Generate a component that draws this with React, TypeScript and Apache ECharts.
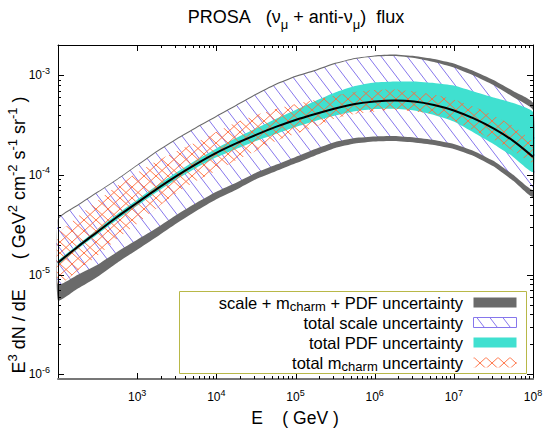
import React, { useEffect, useRef } from 'react';
import * as echarts from 'echarts';

// log10(E / GeV)
const energyExp = [2, 2.25, 2.5, 2.75, 3, 3.25, 3.5, 3.75, 4, 4.25, 4.5, 4.75, 5, 5.25, 5.5, 5.75, 6, 6.25, 6.5, 6.75, 7, 7.25, 7.5, 7.75, 8];
// log10 of E^3 dN/dE  (GeV^2 cm^-2 s^-1 sr^-1)
const centralLog = [-4.88, -4.72, -4.57, -4.42, -4.28, -4.14, -4.01, -3.89, -3.78, -3.685, -3.6, -3.52, -3.45, -3.39, -3.335, -3.29, -3.265, -3.255, -3.265, -3.3, -3.355, -3.435, -3.535, -3.66, -3.82];
const totalUpLog = [-4.438, -4.298, -4.168, -4.038, -3.898, -3.758, -3.633, -3.518, -3.408, -3.298, -3.188, -3.088, -3.008, -2.948, -2.878, -2.828, -2.803, -2.795, -2.81, -2.84, -2.885, -2.96, -3.05, -3.16, -3.28];
const totalLoLog = [-5.26, -5.14, -5.02, -4.88, -4.75, -4.62, -4.485, -4.36, -4.245, -4.15, -4.045, -3.965, -3.885, -3.805, -3.73, -3.685, -3.665, -3.66, -3.675, -3.7, -3.74, -3.81, -3.915, -4.06, -4.22];
const scaleUpLog = [-4.45, -4.31, -4.18, -4.05, -3.91, -3.77, -3.645, -3.53, -3.42, -3.31, -3.2, -3.1, -3.02, -2.96, -2.89, -2.84, -2.815, -2.81, -2.83, -2.87, -2.925, -3.005, -3.1, -3.22, -3.35];
const scaleLoLog = [-5.1, -5.0, -4.9, -4.77, -4.65, -4.53, -4.4, -4.28, -4.17, -4.08, -3.98, -3.9, -3.82, -3.74, -3.67, -3.63, -3.615, -3.61, -3.625, -3.65, -3.69, -3.76, -3.86, -4.0, -4.15];
const pdfUpLog = [-4.86, -4.7, -4.545, -4.393, -4.25, -4.108, -3.975, -3.85, -3.735, -3.63, -3.535, -3.44, -3.35, -3.26, -3.175, -3.11, -3.075, -3.065, -3.065, -3.08, -3.105, -3.165, -3.225, -3.28, -3.37];
const pdfLoLog = [-4.9, -4.742, -4.595, -4.447, -4.31, -4.172, -4.045, -3.93, -3.825, -3.74, -3.66, -3.59, -3.52, -3.46, -3.405, -3.362, -3.34, -3.337, -3.355, -3.4, -3.465, -3.575, -3.69, -3.82, -3.97];
const charmUpLog = [-4.6, -4.42, -4.26, -4.11, -3.98, -3.86, -3.76, -3.67, -3.57, -3.475, -3.4, -3.34, -3.29, -3.25, -3.205, -3.17, -3.15, -3.145, -3.165, -3.195, -3.245, -3.315, -3.405, -3.51, -3.67];
const charmLoLog = [-5.1, -4.96, -4.81, -4.64, -4.49, -4.33, -4.18, -4.06, -3.96, -3.855, -3.76, -3.66, -3.59, -3.52, -3.435, -3.39, -3.365, -3.345, -3.365, -3.39, -3.455, -3.555, -3.645, -3.76, -3.88];

const xMajorExp = [3, 4, 5, 6, 7];
const yMajorExp = [-6, -5, -4, -3];
const yMinorDecades = [-6, -5, -4];
const minorMult = [2, 3, 4, 5, 6, 7, 8, 9];

const legendLabels = [
  '{t|scale + m}{sub|charm}{t| + PDF uncertainty}',
  '{t|total scale uncertainty}',
  '{t|total PDF uncertainty}',
  '{t|total m}{sub|charm}{t| uncertainty}',
];

const FONT = '"Liberation Sans", Arial, Helvetica, sans-serif';
const GRAY = '#6a6a6a';
const HATCH = '#8676ec';
const TURQ = '#40e0d0';
const ORANGE = '#ff6a3a';
const KEYBOX = '#b8b848';

const pow = (v: number) => Math.pow(10, v);

function makeHatch(): HTMLCanvasElement {
  const w = 13, h = 17;
  const c = document.createElement('canvas');
  c.width = w; c.height = h;
  const g = c.getContext('2d')!;
  g.fillStyle = '#ffffff';
  g.fillRect(0, 0, w, h);
  g.strokeStyle = HATCH;
  g.lineWidth = 1;
  g.beginPath();
  for (const dx of [-w, 0, w]) { g.moveTo(dx, 0); g.lineTo(dx + w, h); }
  g.stroke();
  return c;
}

function makeCross(): HTMLCanvasElement {
  const w = 12, h = 11;
  const c = document.createElement('canvas');
  c.width = w; c.height = h;
  const g = c.getContext('2d')!;
  g.strokeStyle = ORANGE;
  g.lineWidth = 0.9;
  g.beginPath();
  for (const dx of [-w, 0, w]) {
    g.moveTo(dx, 0); g.lineTo(dx + w, h);
    g.moveTo(dx + w, 0); g.lineTo(dx, h);
  }
  g.stroke();
  return c;
}

const expLabel = (v: number, hide: number[]) => {
  const l = Math.log10(v);
  const r = Math.round(l);
  if (Math.abs(l - r) > 1e-6 || hide.indexOf(r) >= 0) return '';
  return `{b|10}{s|${r}}`;
};

const labelRich = {
  b: { fontSize: 12, fontFamily: FONT, color: '#000', lineHeight: 18 },
  s: { fontSize: 9, fontFamily: FONT, color: '#000', lineHeight: 10, verticalAlign: 'top' },
};

const mkRich = (size: number, small: number, lh: number, slh: number) => ({
  t: { fontSize: size, fontFamily: FONT, fill: '#000', lineHeight: lh },
  sub: { fontSize: small, fontFamily: FONT, fill: '#000', lineHeight: slh, verticalAlign: 'bottom' },
  sup: { fontSize: small, fontFamily: FONT, fill: '#000', lineHeight: slh, verticalAlign: 'top' },
});

export default function App() {
  const ref = useRef<HTMLDivElement>(null);

  useEffect(() => {
    const el = ref.current!;
    const chart = echarts.init(el, undefined, { renderer: 'svg' });
    const E = energyExp.map(pow);
    const hatchPattern = { image: makeHatch(), repeat: 'repeat' };
    const crossPattern = { image: makeCross(), repeat: 'repeat' };

    const band = (name: string, lo: number[], hi: number[], fill: any, z: number) => ({
      type: 'custom',
      name,
      z,
      silent: true,
      data: [[E[0], pow(hi[0])]],
      renderItem: (_params: any, api: any) => {
        const pts: number[][] = [];
        for (let i = 0; i < E.length; i++) pts.push(api.coord([E[i], pow(hi[i])]));
        for (let i = E.length - 1; i >= 0; i--) pts.push(api.coord([E[i], pow(lo[i])]));
        return { type: 'polygon', shape: { points: pts, smooth: 0.15 }, style: { fill, stroke: null, lineWidth: 0 } };
      },
    });

    // tick marks: [x, y, kind] kind 0 x-major, 1 x-minor, 2 y-major, 3 y-minor
    const tickData: number[][] = [];
    xMajorExp.forEach((e) => {
      tickData.push([pow(e), 1e-4, 0]);
      minorMult.forEach((k) => tickData.push([k * pow(e), 1e-4, 1]));
    });
    yMajorExp.forEach((e) => tickData.push([1e4, pow(e), 2]));
    yMinorDecades.forEach((e) => minorMult.forEach((k) => tickData.push([1e4, k * pow(e), 3])));

    const ticks = {
      type: 'custom',
      name: 'ticks',
      z: 20,
      silent: true,
      data: tickData,
      renderItem: (params: any, api: any) => {
        const cs = params.coordSys;
        const kind = api.value(2);
        const p = api.coord([api.value(0), api.value(1)]);
        const len = kind % 2 === 0 ? 6 : 3;
        const style = { stroke: '#000', lineWidth: 1 };
        if (kind < 2) {
          const x = Math.round(p[0]) + 0.5;
          const yb = cs.y + cs.height;
          return {
            type: 'group',
            children: [
              { type: 'line', shape: { x1: x, y1: yb, x2: x, y2: yb - len }, style },
              { type: 'line', shape: { x1: x, y1: cs.y, x2: x, y2: cs.y + len }, style },
            ],
          };
        }
        const y = Math.round(p[1]) + 0.5;
        const xr = cs.x + cs.width;
        return {
          type: 'group',
          children: [
            { type: 'line', shape: { x1: cs.x, y1: y, x2: cs.x + len, y2: y }, style },
            { type: 'line', shape: { x1: xr, y1: y, x2: xr - len, y2: y }, style },
          ],
        };
      },
    };

    const legendRich = mkRich(16.5, 13, 19, 10);
    const legendX = 179, legendY = 291, legendW = 347, legendH = 82;
    const rowY = [303, 323, 343, 363];
    const sampleFills: any[] = [GRAY, hatchPattern, TURQ, crossPattern];
    const sampleStroke: any[] = [null, HATCH, null, null];

    const graphics: any[] = [
      {
        type: 'text', x: 296, y: 17, z: 50,
        style: {
          text: '{t|PROSA\u00a0\u00a0\u00a0(\u03bd}{sub|\u03bc}{t| + anti-\u03bd}{sub|\u03bc}{t|)\u00a0\u00a0flux}',
          align: 'center', verticalAlign: 'middle', rich: mkRich(18, 13, 27, 16),
        },
      },
      {
        type: 'text', x: 295, y: 418, z: 50,
        style: { text: '{t|E\u00a0\u00a0\u00a0\u00a0( GeV )}', align: 'center', verticalAlign: 'middle', rich: mkRich(17.5, 12, 24, 14) },
      },
      {
        type: 'text', x: 19, y: 235, rotation: Math.PI / 2, z: 50,
        style: {
          text: '{t|E}{sup|3}{t| dN / dE\u00a0\u00a0\u00a0\u00a0\u00a0\u00a0( GeV}{sup|2}{t| cm}{sup|-2}{t| s}{sup|-1}{t| sr}{sup|-1}{t| )}',
          align: 'center', verticalAlign: 'middle', rich: mkRich(18, 13, 27, 16),
        },
      },
      {
        type: 'rect', z: 40,
        shape: { x: legendX + 0.5, y: legendY + 0.5, width: legendW, height: legendH },
        style: { fill: '#fff', stroke: KEYBOX, lineWidth: 1 },
      },
    ];
    legendLabels.forEach((lab, i) => {
      graphics.push({
        type: 'text', x: 463, y: rowY[i], z: 45,
        style: { text: lab, align: 'right', verticalAlign: 'middle', rich: legendRich },
      });
      graphics.push({
        type: 'rect', z: 45,
        shape: { x: 473.5, y: rowY[i] - 5.5, width: 43, height: 10 },
        style: { fill: sampleFills[i], stroke: sampleStroke[i], lineWidth: sampleStroke[i] ? 1 : 0 },
      });
    });

    const baseX = { type: 'log', logBase: 10, min: 100, max: 1e8, z: 10, splitLine: { show: false }, axisTick: { show: false }, minorTick: { show: false } };
    const baseY = { type: 'log', logBase: 10, min: 9e-7, max: 2e-3, z: 10, splitLine: { show: false }, axisTick: { show: false }, minorTick: { show: false } };

    chart.setOption({
      animation: false,
      backgroundColor: '#fff',
      grid: { left: 58, top: 45, right: 23, bottom: 66, show: false },
      xAxis: [
        {
          ...baseX, position: 'bottom',
          axisLine: { show: true, onZero: false, lineStyle: { color: '#777', width: 2 } },
          axisLabel: { margin: 9, formatter: (v: number) => expLabel(v, [2]), rich: labelRich, showMinLabel: false },
        },
        {
          ...baseX, position: 'top',
          axisLine: { show: true, onZero: false, lineStyle: { color: '#000', width: 1 } },
          axisLabel: { show: false },
        },
      ],
      yAxis: [
        {
          ...baseY, position: 'left',
          axisLine: { show: true, onZero: false, lineStyle: { color: '#000', width: 1 } },
          axisLabel: { margin: 8, formatter: (v: number) => expLabel(v, []), rich: labelRich },
        },
        {
          ...baseY, position: 'right',
          axisLine: { show: true, onZero: false, lineStyle: { color: '#000', width: 1 } },
          axisLabel: { show: false },
        },
      ],
      series: [
        band('scale + mcharm + PDF uncertainty', totalLoLog, totalUpLog, GRAY, 1),
        band('total scale uncertainty', scaleLoLog, scaleUpLog, hatchPattern, 2),
        band('total PDF uncertainty', pdfLoLog, pdfUpLog, TURQ, 3),
        band('total mcharm uncertainty', charmLoLog, charmUpLog, crossPattern, 4),
        {
          type: 'line',
          name: 'central',
          z: 5,
          silent: true,
          showSymbol: false,
          smooth: 0.3,
          data: E.map((x, i) => [x, pow(centralLog[i])]),
          lineStyle: { color: '#000', width: 2 },
        },
        ticks,
      ],
      graphic: graphics,
    });

    return () => chart.dispose();
  }, []);

  return (
    <div style={{ position: 'fixed', left: 0, top: 0, width: 556, height: 445, background: '#fff' }}>
      <div ref={ref} style={{ width: 556, height: 445 }} />
    </div>
  );
}
